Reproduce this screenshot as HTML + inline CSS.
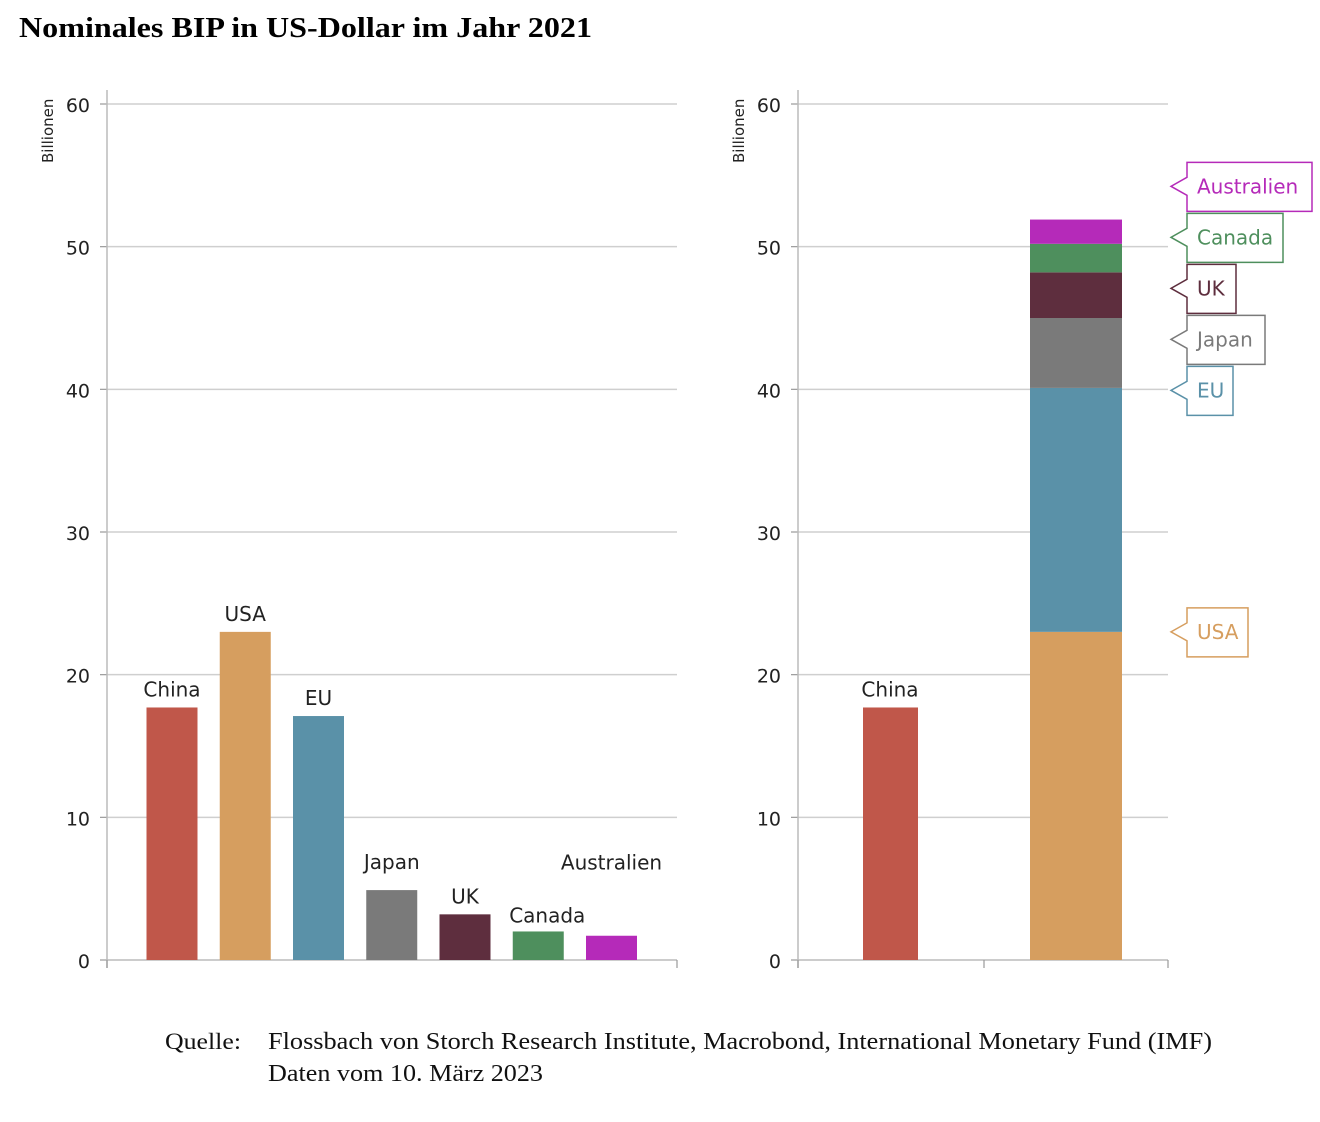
<!DOCTYPE html>
<html><head><meta charset="utf-8"><style>
body{margin:0;background:#fff;width:1320px;height:1117px;overflow:hidden}
svg text{font-family:"DejaVu Sans","Liberation Sans",sans-serif}
</style></head><body>
<svg id="c" width="1320" height="1117" xmlns="http://www.w3.org/2000/svg">
<text x="19" y="37" font-size="29" font-weight="bold" fill="#000" textLength="573" lengthAdjust="spacingAndGlyphs" style="font-family:'Liberation Serif',serif">Nominales BIP in US-Dollar im Jahr 2021</text>
<text x="165" y="1049" font-size="23" fill="#111" textLength="76" lengthAdjust="spacingAndGlyphs" style="font-family:'Liberation Serif',serif">Quelle:</text>
<text x="268" y="1049" font-size="24" fill="#111" textLength="944" lengthAdjust="spacingAndGlyphs" style="font-family:'Liberation Serif',serif">Flossbach von Storch Research Institute, Macrobond, International Monetary Fund (IMF)</text>
<text x="268" y="1081" font-size="24" fill="#111" textLength="275" lengthAdjust="spacingAndGlyphs" style="font-family:'Liberation Serif',serif">Daten vom 10. März 2023</text>
</svg>
<script>
const categories=["China","USA","EU","Japan","UK","Canada","Australien"];
const values=[17.7,23.0,17.1,4.9,3.2,2.0,1.7];
const colors=["#c0574a","#d69e5f","#5a91a8","#7a7a7a","#5e2e3e","#4e8f5d","#b52ab9"];
const yTicks=[0,10,20,30,40,50,60];
const stackCats=["USA","EU","Japan","UK","Canada","Australien"];

const svg=document.getElementById('c');
const NS="http://www.w3.org/2000/svg";
function el(t,a,p){const e=document.createElementNS(NS,t);for(const k in a)e.setAttribute(k,a[k]);(p||svg).appendChild(e);return e;}
const y=v=>960-v*(856/60);

function axes(x0,x1,name,xt){
  const g=el('g',{});
  
  
  yTicks.forEach(t=>{
    if(t>0){const l=el('line',{x1:x0,x2:x1,y1:y(t),y2:y(t),stroke:'#cfcfcf','stroke-width':1.5},g);
    }
    el('line',{x1:x0-7,x2:x0,y1:y(t),y2:y(t),stroke:'#999','stroke-width':1.2},g);
    const tx=el('text',{x:x0-17,y:y(t)+8,'font-size':19,'text-anchor':'end',fill:'#222'},g);
    tx.textContent=t;
    
    
  });
  el('line',{x1:x0,x2:x0,y1:90,y2:968,stroke:'#bbb','stroke-width':1.5},g);
  el('line',{x1:x0,x2:x1,y1:960,y2:960,stroke:'#bbb','stroke-width':1.5},g);
  xt.forEach(x=>el('line',{x1:x,x2:x,y1:960,y2:968,stroke:'#999','stroke-width':1.2},g));
  const at=el('text',{transform:`translate(${x0-54},163) rotate(-90)`,'font-size':15,fill:'#222'},g);
  at.textContent='Billionen';
  
  
}
axes(107,677,'left',[107,677]);
axes(798,1168,'right',[798,984,1168]);

const labelGap={China:11,USA:11,EU:11,Japan:21,UK:11,Canada:9,Australien:66};
categories.forEach((c,i)=>{
  const cx=172+i*73.25;
  const r=el('rect',{x:cx-25.5,y:y(values[i]),width:51,height:960-y(values[i]),fill:colors[i]});
  
  
  const t=el('text',{x:c==="Canada"?cx+9:cx,y:y(values[i])-labelGap[c],'font-size':20,'text-anchor':'middle',fill:'#222'});
  t.textContent=c;
  
  
});

const r0=el('rect',{x:863,y:y(values[0]),width:55,height:960-y(values[0]),fill:colors[0]});


const tc=el('text',{x:890,y:y(values[0])-11,'font-size':20,'text-anchor':'middle',fill:'#222'});
tc.textContent='China';



let cum=0;const desired=[];
stackCats.forEach((c,j)=>{
  const i=categories.indexOf(c);const v=values[i];
  const r=el('rect',{x:1030,y:y(cum+v),width:92,height:y(cum)-y(cum+v),fill:colors[i]});
  
  
  cum+=v;desired.push({c,i,d:y(cum)});
});
const H=51;
let items=desired.slice().sort((a,b)=>a.d-b.d);
let clusters=items.map(it=>({items:[it],mean:it.d}));
let changed=true;
function place(cl){const n=cl.items.length;const start=cl.mean-(n-1)*H/2;cl.items.forEach((it,k)=>it.y=start+k*H);}
while(changed){changed=false;clusters.forEach(place);
  for(let k=0;k<clusters.length-1;k++){const a=clusters[k],b=clusters[k+1];
    if(a.items[a.items.length-1].y+H>b.items[0].y){const its=a.items.concat(b.items);
      clusters.splice(k,2,{items:its,mean:its.reduce((s,t)=>s+t.d,0)/its.length});changed=true;break;}}}
clusters.forEach(place);
const widths={USA:61,EU:46,Japan:78,UK:49,Canada:96,Australien:125};
items.forEach(it=>{
  const g=el('g',{});
  
  
  const x=1187,w=widths[it.c],t=it.y-24,b=it.y+25;
  el('path',{d:`M${x},${t} L${x+w},${t} L${x+w},${b} L${x},${b} L${x},${it.y+9} L${x-16},${it.y} L${x},${it.y-9} Z`,fill:'#fff',stroke:colors[it.i],'stroke-width':1.5},g);
  const tx=el('text',{x:x+10,y:it.y+7,'font-size':20,fill:colors[it.i]},g);
  tx.textContent=it.c;
});
</script>
</body></html>
